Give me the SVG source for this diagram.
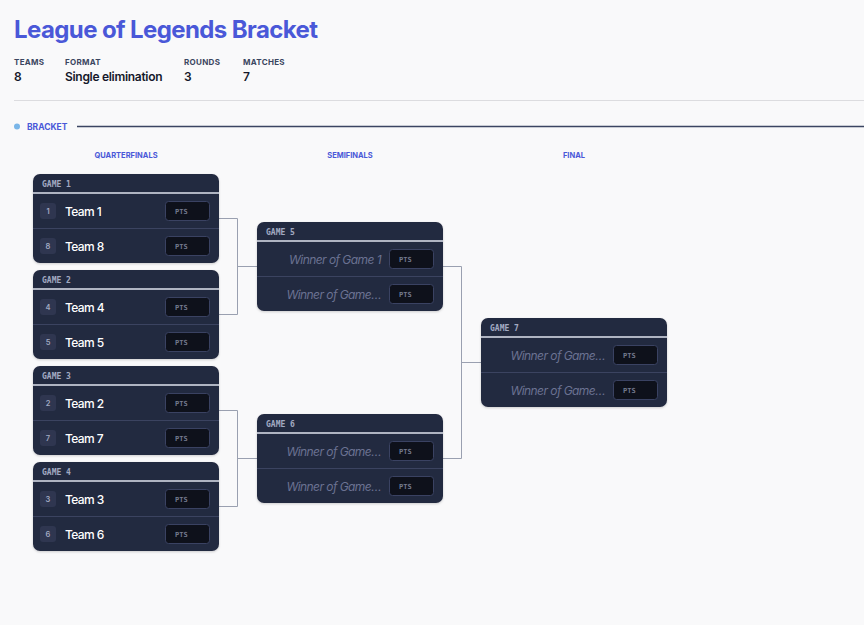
<svg xmlns="http://www.w3.org/2000/svg" width="864" height="625" viewBox="0 0 864 625">
<defs>
<style>
.title{font-family:Inter,"Liberation Sans",sans-serif;font-weight:700;font-size:24px;fill:#4a58d8;letter-spacing:-0.6px}
.lbl{font-family:Inter,"Liberation Sans",sans-serif;font-weight:700;font-size:8px;fill:#3b4660;letter-spacing:0.3px}
.val{font-family:Inter,"Liberation Sans",sans-serif;font-weight:600;font-size:12px;fill:#15182a;letter-spacing:-0.3px}
.sec{font-family:Inter,"Liberation Sans",sans-serif;font-weight:700;font-size:8.5px;fill:#4a58d8}
.rnd{font-family:Inter,"Liberation Sans",sans-serif;font-weight:700;font-size:7.5px;fill:#4a58d8;text-anchor:middle}
.card{fill:#232a3f}
.hdr{font-family:"DejaVu Sans Mono","Liberation Mono",monospace;font-weight:700;font-size:8px;fill:#a2aac2}
.hline{stroke:#dfe3ee;stroke-width:1.5}
.rline{stroke:#3b4360;stroke-width:1}
.seed{fill:#2f3650}
.seedt{font-family:Inter,"Liberation Sans",sans-serif;font-weight:600;font-size:7.5px;fill:#a2aac2;text-anchor:middle}
.team{font-family:Inter,"Liberation Sans",sans-serif;font-weight:500;font-size:12px;fill:#ffffff;letter-spacing:-0.6px}
.win{font-family:Inter,"Liberation Sans",sans-serif;font-style:italic;font-size:12px;fill:#6b7292;text-anchor:end;letter-spacing:-0.55px}
.pts{fill:#0e111b;stroke:#3a4262;stroke-width:1}
.ptst{font-family:"DejaVu Sans Mono","Liberation Mono",monospace;font-weight:700;font-size:7px;fill:#747a8e}
.conn{fill:none;stroke:#9aa0b0;stroke-width:1}
</style>
<filter id="sh" x="-5%" y="-5%" width="110%" height="115%">
<feDropShadow dx="0" dy="1" stdDeviation="1.2" flood-color="#000" flood-opacity="0.18"/>
</filter>
<g id="cardbase">
<rect class="card" x="0" y="0" width="186" height="89" rx="7" filter="url(#sh)"/>
<line class="hline" x1="0" y1="19" x2="186" y2="19"/>
<line class="rline" x1="0" y1="54.5" x2="186" y2="54.5"/>
<rect class="pts" x="132.5" y="27.5" width="44" height="19" rx="3"/>
<rect class="pts" x="132.5" y="62.5" width="44" height="19" rx="3"/>
<text class="ptst" x="142" y="40">PTS</text>
<text class="ptst" x="142" y="75">PTS</text>
</g>
</defs>
<rect width="864" height="625" fill="#f9f9fa"/>
<g id="header">
<text class="title" x="14" y="38">League of Legends Bracket</text>
<text class="lbl" x="14" y="65">TEAMS</text>
<text class="val" x="14" y="81">8</text>
<text class="lbl" x="65" y="65">FORMAT</text>
<text class="val" x="65" y="81">Single elimination</text>
<text class="lbl" x="184" y="65">ROUNDS</text>
<text class="val" x="184" y="81">3</text>
<text class="lbl" x="243" y="65">MATCHES</text>
<text class="val" x="243" y="81">7</text>
<line x1="14" y1="100.5" x2="864" y2="100.5" stroke="#dcdcdf" stroke-width="1"/>
<circle cx="17" cy="126.5" r="3" fill="#7ab6e8"/>
<text class="sec" x="27" y="130">BRACKET</text>
<line x1="77" y1="126.5" x2="864" y2="126.5" stroke="#3b4562" stroke-width="1.3"/>
<text class="rnd" x="126" y="158">QUARTERFINALS</text>
<text class="rnd" x="350" y="158">SEMIFINALS</text>
<text class="rnd" x="574" y="158">FINAL</text>
</g>
<g id="connectors">
<path class="conn" d="M219 218.5H237.5V314.5H219M237.5 266.5H257"/>
<path class="conn" d="M219 410.5H237.5V506.5H219M237.5 458.5H257"/>
<path class="conn" d="M443 266.5H461.5V458.5H443M461.5 362.5H481"/>
</g>
<g id="game1" transform="translate(33,174)">
<use href="#cardbase"/>
<text class="hdr" x="9" y="13">GAME 1</text>
<rect class="seed" x="7" y="29" width="16" height="16" rx="3"/><text class="seedt" x="15" y="40">1</text>
<text class="team" x="32" y="42">Team 1</text>
<rect class="seed" x="7" y="64" width="16" height="16" rx="3"/><text class="seedt" x="15" y="75">8</text>
<text class="team" x="32" y="77">Team 8</text>
</g>
<g id="game2" transform="translate(33,270)">
<use href="#cardbase"/>
<text class="hdr" x="9" y="13">GAME 2</text>
<rect class="seed" x="7" y="29" width="16" height="16" rx="3"/><text class="seedt" x="15" y="40">4</text>
<text class="team" x="32" y="42">Team 4</text>
<rect class="seed" x="7" y="64" width="16" height="16" rx="3"/><text class="seedt" x="15" y="75">5</text>
<text class="team" x="32" y="77">Team 5</text>
</g>
<g id="game3" transform="translate(33,366)">
<use href="#cardbase"/>
<text class="hdr" x="9" y="13">GAME 3</text>
<rect class="seed" x="7" y="29" width="16" height="16" rx="3"/><text class="seedt" x="15" y="40">2</text>
<text class="team" x="32" y="42">Team 2</text>
<rect class="seed" x="7" y="64" width="16" height="16" rx="3"/><text class="seedt" x="15" y="75">7</text>
<text class="team" x="32" y="77">Team 7</text>
</g>
<g id="game4" transform="translate(33,462)">
<use href="#cardbase"/>
<text class="hdr" x="9" y="13">GAME 4</text>
<rect class="seed" x="7" y="29" width="16" height="16" rx="3"/><text class="seedt" x="15" y="40">3</text>
<text class="team" x="32" y="42">Team 3</text>
<rect class="seed" x="7" y="64" width="16" height="16" rx="3"/><text class="seedt" x="15" y="75">6</text>
<text class="team" x="32" y="77">Team 6</text>
</g>
<g id="game5" transform="translate(257,222)">
<use href="#cardbase"/>
<text class="hdr" x="9" y="13">GAME 5</text>
<text class="win" x="124" y="42">Winner of Game 1</text>
<text class="win" x="124" y="77">Winner of Game…</text>
</g>
<g id="game6" transform="translate(257,414)">
<use href="#cardbase"/>
<text class="hdr" x="9" y="13">GAME 6</text>
<text class="win" x="124" y="42">Winner of Game…</text>
<text class="win" x="124" y="77">Winner of Game…</text>
</g>
<g id="game7" transform="translate(481,318)">
<use href="#cardbase"/>
<text class="hdr" x="9" y="13">GAME 7</text>
<text class="win" x="124" y="42">Winner of Game…</text>
<text class="win" x="124" y="77">Winner of Game…</text>
</g>
</svg>
